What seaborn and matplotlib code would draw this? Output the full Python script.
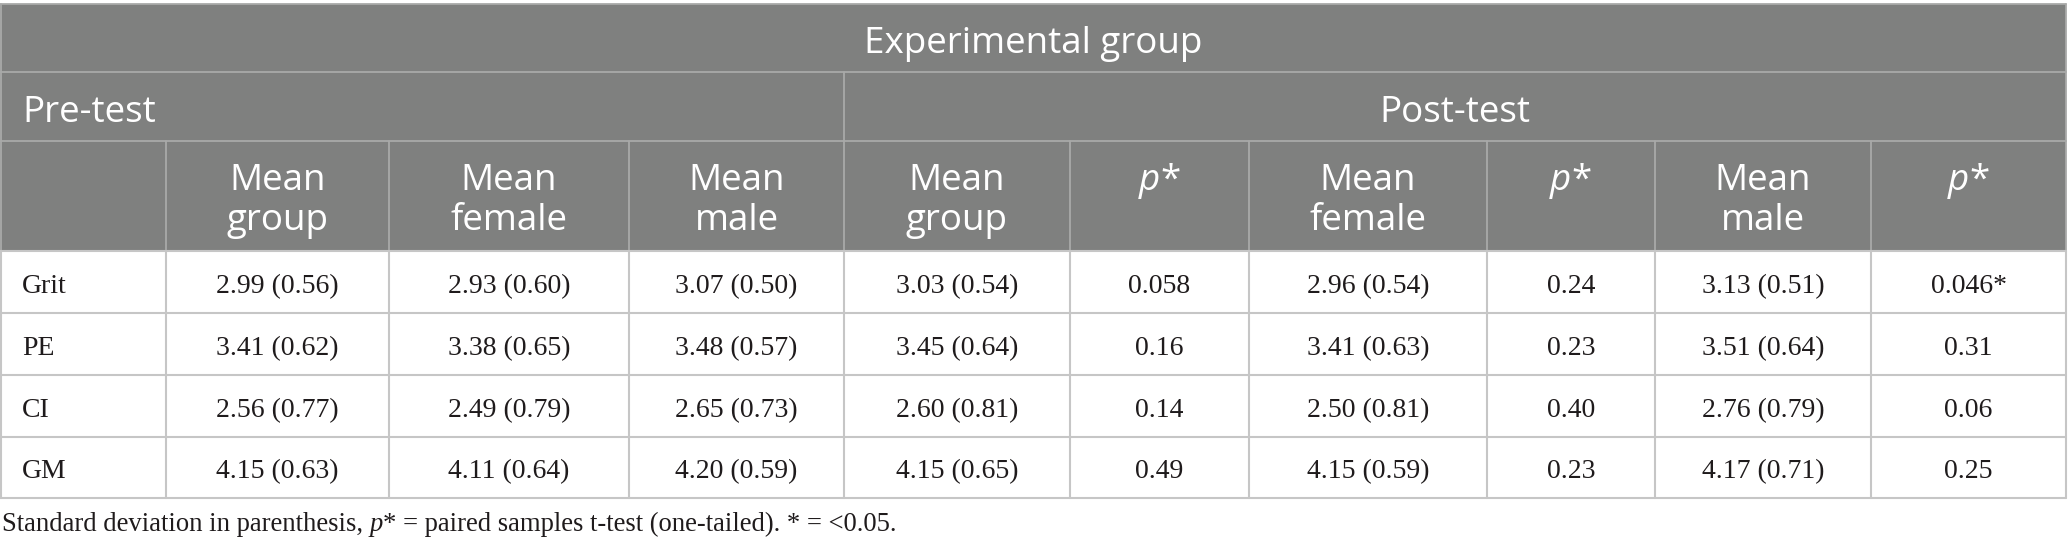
import matplotlib
matplotlib.use("Agg")
import matplotlib.pyplot as plt
from matplotlib.patches import Rectangle
import seaborn as sns

# ---------------- data ----------------
variables = ["Grit", "PE", "CI", "GM"]
pre_group_mean = [2.99, 3.41, 2.56, 4.15]
pre_group_sd = [0.56, 0.62, 0.77, 0.63]
pre_female_mean = [2.93, 3.38, 2.49, 4.11]
pre_female_sd = [0.60, 0.65, 0.79, 0.64]
pre_male_mean = [3.07, 3.48, 2.65, 4.20]
pre_male_sd = [0.50, 0.57, 0.73, 0.59]
post_group_mean = [3.03, 3.45, 2.60, 4.15]
post_group_sd = [0.54, 0.64, 0.81, 0.65]
p_group = ["0.058", "0.16", "0.14", "0.49"]
post_female_mean = [2.96, 3.41, 2.50, 4.15]
post_female_sd = [0.54, 0.63, 0.81, 0.59]
p_female = ["0.24", "0.23", "0.40", "0.23"]
post_male_mean = [3.13, 3.51, 2.76, 4.17]
post_male_sd = [0.51, 0.64, 0.79, 0.71]
p_male = ["0.046*", "0.31", "0.06", "0.25"]

title_text = "Experimental group"
pre_label = "Pre-test"
post_label = "Post-test"
col_headers = ["", "Mean\ngroup", "Mean\nfemale", "Mean\nmale", "Mean\ngroup", "p*",
               "Mean\nfemale", "p*", "Mean\nmale", "p*"]
footnote_parts = [("Standard deviation in parenthesis, ", "normal"), ("p", "italic"),
                  ("* = paired samples t-test (one-tailed). * = <0.05.", "normal")]


def fmt(m, s):
    return f"{m:.2f} ({s:.2f})"


body = []
for i in range(len(variables)):
    body.append([variables[i],
                 fmt(pre_group_mean[i], pre_group_sd[i]),
                 fmt(pre_female_mean[i], pre_female_sd[i]),
                 fmt(pre_male_mean[i], pre_male_sd[i]),
                 fmt(post_group_mean[i], post_group_sd[i]),
                 p_group[i],
                 fmt(post_female_mean[i], post_female_sd[i]),
                 p_female[i],
                 fmt(post_male_mean[i], post_male_sd[i]),
                 p_male[i]])

# ---------------- style ----------------
sns.set_theme(style="white")
SANS = ["Open Sans", "DejaVu Sans"]
SERIF = ["Liberation Serif", "DejaVu Serif"]
plt.rcParams["font.family"] = SERIF

W, H = 2068, 552
fig = plt.figure(figsize=(W / 100, H / 100), dpi=100)
ax = fig.add_axes([0, 0, 1, 1])
ax.set_xlim(0, W)
ax.set_ylim(H, 0)
ax.axis("off")

col_edges = [0, 166, 389, 629, 844, 1070, 1249, 1487, 1655, 1871, 2066]
row_edges = [4, 72, 141, 251, 313, 375, 437, 498]
split_x = 844

HDR_BG = "#7f807f"
HDR_LINE = "#a9aaa9"
BODY_LINE = "#c6c6c6"
TXT = "#1f1b1c"
HFS = 26.5
BFS = 20
FFS = 19.2

renderer = fig.canvas.get_renderer()


def rich(x, y, parts, ha="center", family=SERIF, size=BFS, color=TXT):
    texts, widths = [], []
    for s, st in parts:
        t = ax.text(0, y, s, style=st, va="baseline", ha="left", family=family,
                    fontsize=size, color=color)
        widths.append(t.get_window_extent(renderer).width)
        texts.append(t)
    start = x - sum(widths) / 2 if ha == "center" else x
    for t, w in zip(texts, widths):
        t.set_x(start)
        start += w


def htext(x, y, s, ha="center"):
    ax.text(x, y, s, ha=ha, va="baseline", family=SANS, fontsize=HFS, color="white")


# header background
ax.add_patch(Rectangle((0, row_edges[0]), col_edges[-1], row_edges[3] - row_edges[0],
                       facecolor=HDR_BG, edgecolor="none", zorder=0))

# header lines
lw_h = 1.3
for y in row_edges[:3]:
    ax.plot([0, col_edges[-1]], [y, y], color=HDR_LINE, lw=lw_h, zorder=2)
ax.plot([split_x, split_x], [row_edges[1], row_edges[2]], color=HDR_LINE, lw=lw_h, zorder=2)
for x in col_edges[1:-1]:
    ax.plot([x, x], [row_edges[2], row_edges[3]], color=HDR_LINE, lw=lw_h, zorder=2)
for x in (col_edges[0] + 0.5, col_edges[-1]):
    ax.plot([x, x], [row_edges[0], row_edges[3]], color=HDR_LINE, lw=lw_h, zorder=2)

# body lines
lw_b = 1.5
for y in row_edges[3:]:
    ax.plot([0, col_edges[-1]], [y, y], color=BODY_LINE, lw=lw_b, zorder=2)
for x in [col_edges[0] + 0.7] + col_edges[1:]:
    ax.plot([x, x], [row_edges[3], row_edges[-1]], color=BODY_LINE, lw=lw_b, zorder=2)

# header texts
htext(col_edges[-1] / 2, 53, title_text)
htext(22, 122, pre_label, ha="left")
htext((split_x + col_edges[-1]) / 2, 122, post_label)
for j, lab in enumerate(col_headers):
    if not lab:
        continue
    cx = (col_edges[j] + col_edges[j + 1]) / 2
    if lab == "p*":
        rich(cx, 190, [("p", "italic"), ("*", "normal")], family=SANS, size=HFS,
             color="white")
    else:
        l1, l2 = lab.split("\n")
        htext(cx, 190, l1)
        htext(cx, 230, l2)

# body texts
for i, row in enumerate(body):
    by = (row_edges[3 + i] + row_edges[4 + i]) / 2 + 11
    for j, val in enumerate(row):
        if j == 0:
            ax.text(22, by, val, ha="left", va="baseline", family=SERIF, fontsize=BFS,
                    color=TXT)
        else:
            cx = (col_edges[j] + col_edges[j + 1]) / 2
            ax.text(cx, by, val, ha="center", va="baseline", family=SERIF, fontsize=BFS,
                    color=TXT)

# footnote
rich(2, 531, footnote_parts, ha="left", family=SERIF, size=FFS, color=TXT)

fig.savefig("out.png", dpi=100, facecolor="white")
